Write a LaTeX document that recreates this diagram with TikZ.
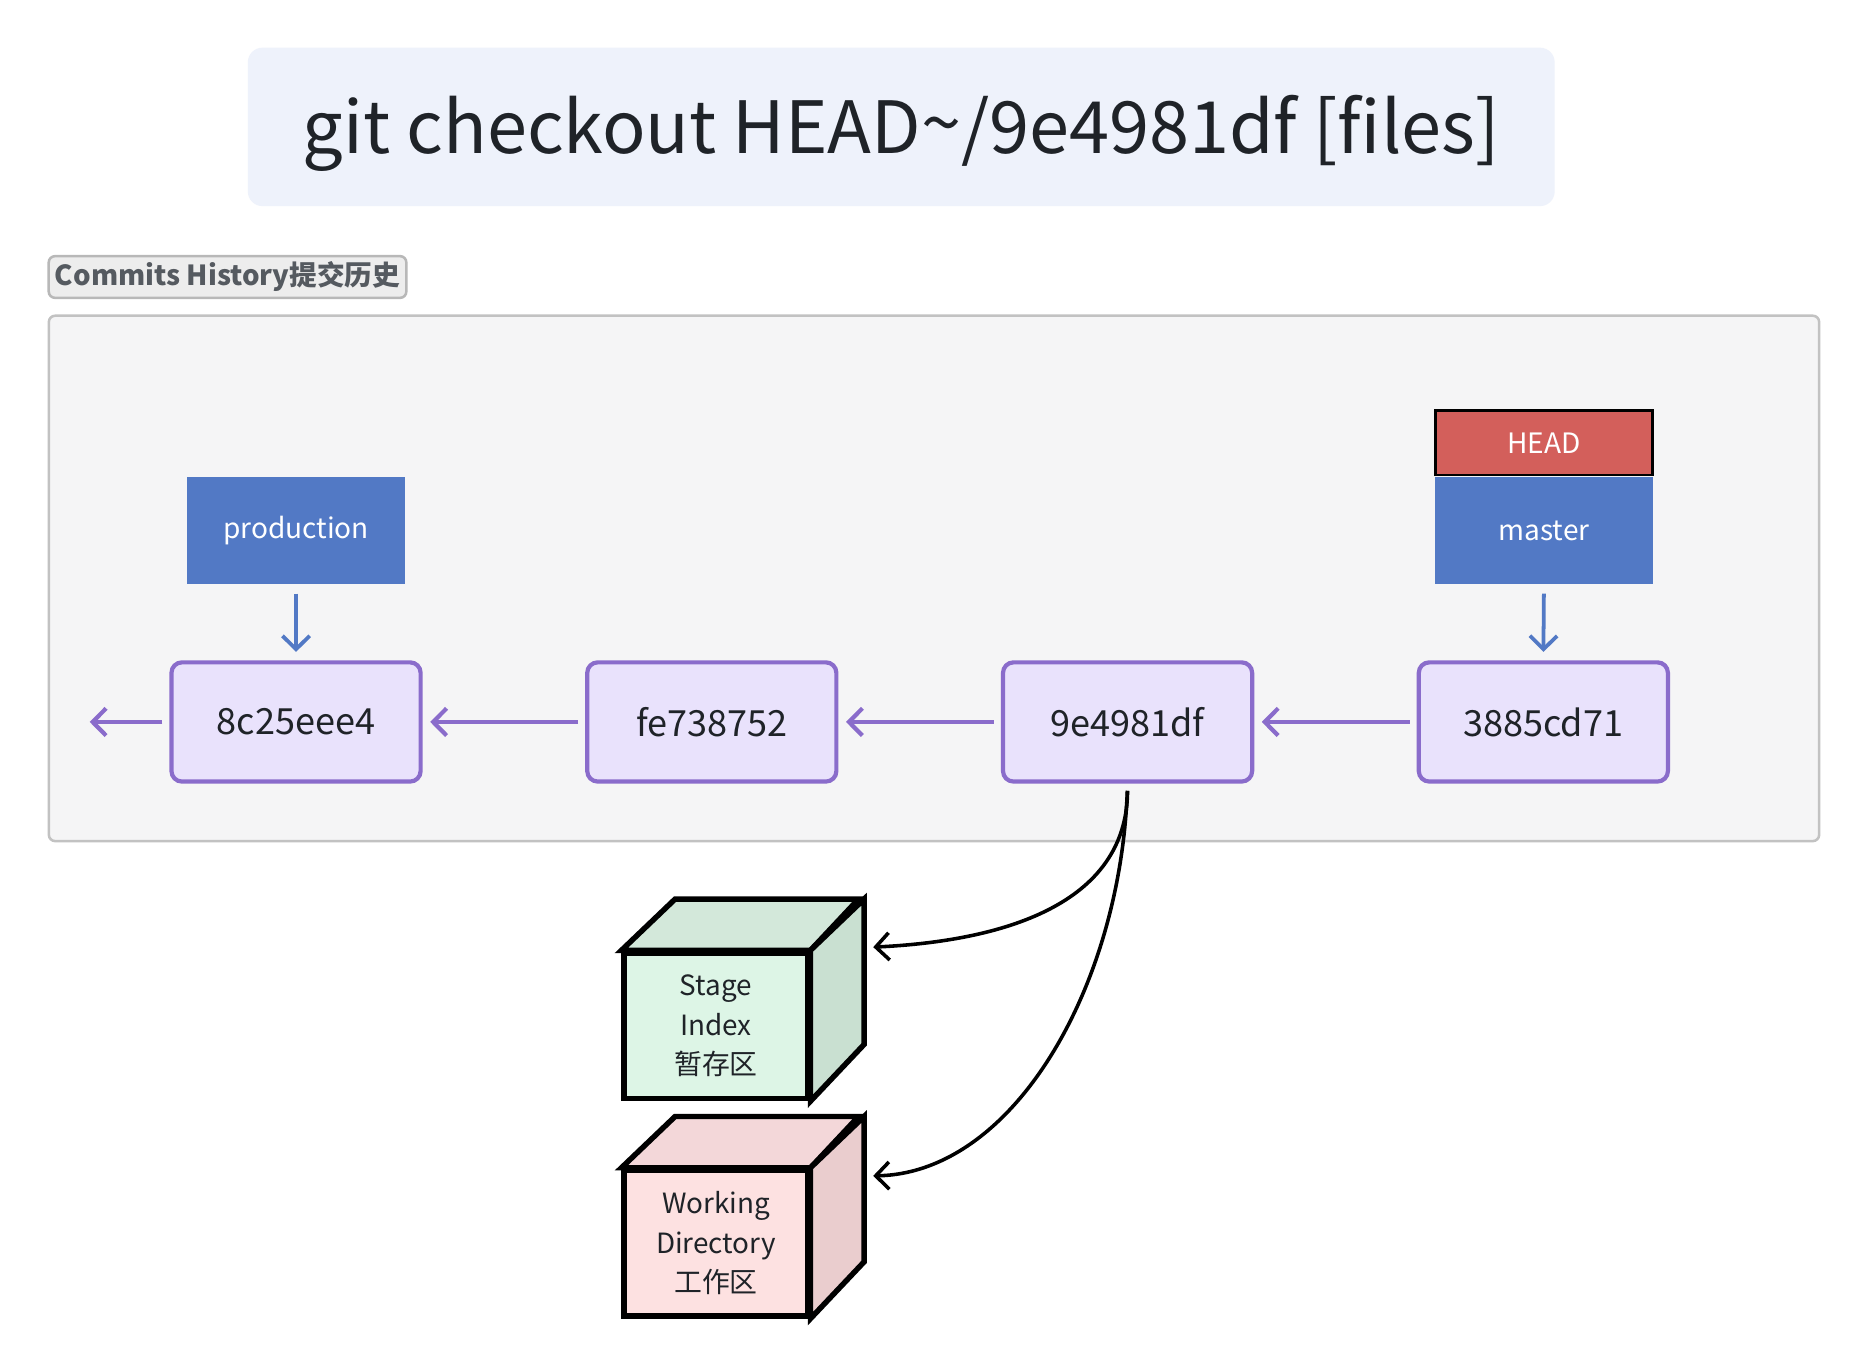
\documentclass[tikz,border=0pt]{standalone}
\usepackage{fontspec}
\setmainfont{Noto Sans CJK SC}
\usetikzlibrary{arrows.meta,positioning}

\definecolor{titlefill}{HTML}{EEF2FB}
\definecolor{textdark}{HTML}{1F2328}
\definecolor{labelfill}{HTML}{EDEDED}
\definecolor{labelline}{HTML}{B8B8B8}
\definecolor{labeltext}{HTML}{555A60}
\definecolor{historyfill}{HTML}{F5F5F6}
\definecolor{historyline}{HTML}{C2C2C2}
\definecolor{commitfill}{HTML}{E9E2FC}
\definecolor{commitline}{HTML}{8A6CCB}
\definecolor{branchblue}{HTML}{5279C5}
\definecolor{headred}{HTML}{D35F5B}
\definecolor{stagefront}{HTML}{DDF5E6}
\definecolor{stagetop}{HTML}{D3E8DA}
\definecolor{stageside}{HTML}{C9E0D1}
\definecolor{workfront}{HTML}{FDE1E1}
\definecolor{worktop}{HTML}{F3D7D9}
\definecolor{workside}{HTML}{EACDCE}

\tikzset{
    commit/.style={draw=commitline, fill=commitfill, line width=1pt, rounded corners=2.5pt,
        minimum width=2.09cm, minimum height=1.0cm, text=textdark, font=\fontsize{8.6}{10}\selectfont},
    branch/.style={fill=branchblue, minimum width=1.83cm, minimum height=0.9cm, inner sep=0pt,
        text=white, font=\fontsize{6.7}{8}\selectfont},
    parent/.style={draw=commitline, line width=1pt, ->, shorten <=1.7pt, shorten >=1.8pt},
    points/.style={draw=branchblue, line width=0.9pt, ->, shorten <=2pt, shorten >=2pt},
    cube/.style={draw=black, line width=1.3pt, minimum width=1.54cm, minimum height=1.22cm,
        align=center, text=textdark, font=\fontsize{6.65}{9.4}\selectfont},
    curve/.style={draw=black, line width=0.85pt, ->, shorten <=1.7pt},
    >={Straight Barb[length=3.2pt,width=6.5pt]}
}

\begin{document}
\begin{tikzpicture}[x=0.01cm, y=-0.01cm]
    \fill[white] (0,0) rectangle (1568,1147);
    \useasboundingbox (0,0) rectangle (1568,1147);

    % title
    \fill[titlefill, rounded corners=3.5pt] (208,40) rectangle (1305,173);
    \node[text=textdark, font=\fontsize{17.2}{19}\selectfont] (title) at (756.5,112)
        {git checkout HEAD\raisebox{0.05em}{\char`\~}/9e4981df [files]};

    % commit history frame
    \node[fill=labelfill, draw=labelline, line width=0.6pt, rounded corners=1.5pt,
        minimum width=3.0cm, minimum height=0.35cm, inner sep=0pt, text=labeltext,
        font=\bfseries\fontsize{6.6}{8}\selectfont] (history) at (191,232.5) {Commits History提交历史};
    \filldraw[draw=historyline, fill=historyfill, line width=0.6pt, rounded corners=1.5pt]
        (41,265) rectangle (1527,706);

    % commits
    \node[commit] (c8c25eee4) at (248.5,606) {8c25eee4};
    \node[commit] (cfe738752) at (597.5,606) {fe738752};
    \node[commit] (c9e4981df) at (946.5,606) {9e4981df};
    \node[commit] (c3885cd71) at (1295.5,606) {3885cd71};
    \coordinate (older) at (69,606);

    \draw[parent] (c3885cd71.west) -- (c9e4981df.east);
    \draw[parent] (c9e4981df.west) -- (cfe738752.east);
    \draw[parent] (cfe738752.west) -- (c8c25eee4.east);
    \draw[parent] (c8c25eee4.west) -- (older);

    % branches
    \node[branch] (production) at (248.5,445.5) {production};
    \node[branch] (master) at (1296,445.5) {master};
    \node[fill=headred, draw=black, line width=0.6pt, minimum width=1.82cm, minimum height=0.54cm,
        inner sep=0pt, text=white, font=\fontsize{6.7}{8}\selectfont, above=0pt of master] (head) {HEAD};

    \draw[points] (production.south) -- (c8c25eee4.north);
    \draw[points] (master.south) -- (c3885cd71.north);

    % stage index
    \node[cube, fill=stagefront] (stage) at (601,861) {Stage\\Index\\暂存区};
    \filldraw[draw=black, line width=1.3pt, fill=stagetop] (stage.north west) -- ++(45,-43) -- ++(154,0) -- (stage.north east) -- cycle;
    \filldraw[draw=black, line width=1.3pt, fill=stageside] (stage.north east) -- ++(45,-43) -- ++(0,122) -- (stage.south east) -- cycle;
    \coordinate (stagein) at (733,795);

    % working directory
    \node[cube, fill=workfront] (work) at (601,1043.5) {Working\\Directory\\工作区};
    \filldraw[draw=black, line width=1.3pt, fill=worktop] (work.north west) -- ++(45,-43) -- ++(154,0) -- (work.north east) -- cycle;
    \filldraw[draw=black, line width=1.3pt, fill=workside] (work.north east) -- ++(45,-43) -- ++(0,122) -- (work.south east) -- cycle;
    \coordinate (workin) at (733,987);

    \draw[curve] (c9e4981df.south) .. controls (946,760) and (840,790) .. (stagein);
    \draw[curve] (c9e4981df.south) .. controls (940,830) and (850,985) .. (workin);
\end{tikzpicture}
\end{document}
